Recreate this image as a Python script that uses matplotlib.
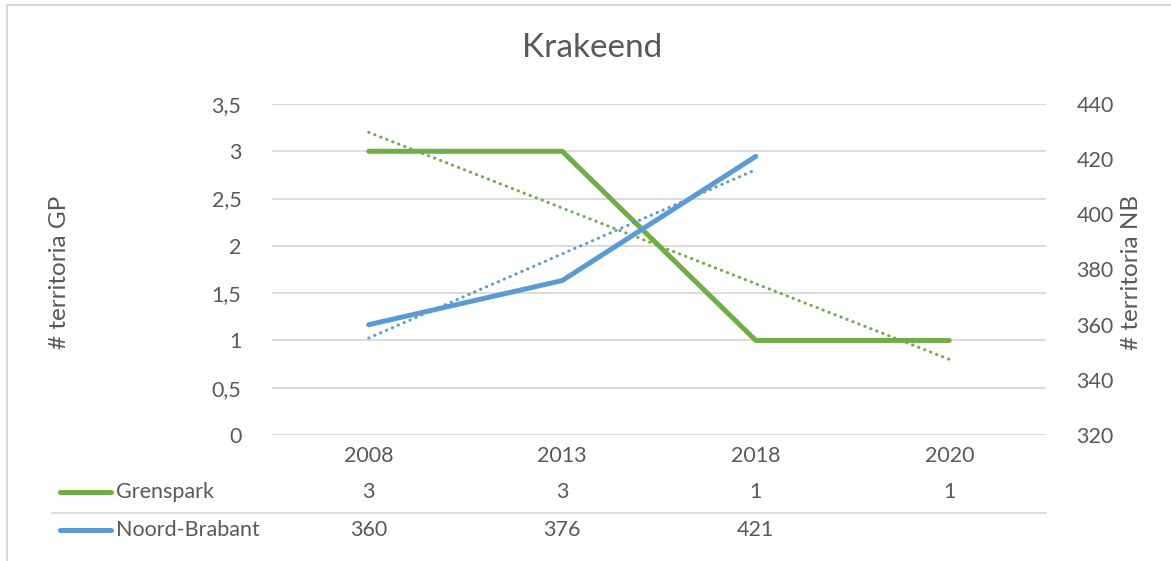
import matplotlib.pyplot as plt
import numpy as np
from matplotlib.lines import Line2D
from matplotlib.transforms import blended_transform_factory

# Data
years = ['2008', '2013', '2018', '2020']
grenspark = [3, 3, 1, 1]
noord_brabant = [360, 376, 421]

GREEN = '#70AD47'
BLUE = '#5B9BD5'
GRID = '#D9D9D9'
TEXT = '#595959'

plt.rcParams['font.family'] = ['Lato', 'DejaVu Sans']

W, H = 1171, 561
fig = plt.figure(figsize=(W / 100, H / 100), dpi=100)


def fx(px):
    return px / W


def fy(py):
    return 1 - py / H


ax = fig.add_axes([fx(272), fy(435), fx(1046) - fx(272), fy(104) - fy(435)])
ax2 = ax.twinx()

x_gp = np.arange(len(grenspark))
x_nb = np.arange(len(noord_brabant))

# Main lines
ax.plot(x_gp, grenspark, color=GREEN, lw=3.6, solid_capstyle='round',
        solid_joinstyle='round', zorder=3)
ax2.plot(x_nb, noord_brabant, color=BLUE, lw=3.6, solid_capstyle='round',
         solid_joinstyle='round', zorder=3)

# Linear trendlines
c_gp = np.polyfit(x_gp, grenspark, 1)
c_nb = np.polyfit(x_nb, noord_brabant, 1)
ax.plot(x_gp, np.polyval(c_gp, x_gp), color=GREEN, lw=2.2,
        linestyle=(0, (0.1, 2.0)), dash_capstyle='round', zorder=4)
ax2.plot(x_nb, np.polyval(c_nb, x_nb), color=BLUE, lw=2.2,
         linestyle=(0, (0.1, 2.0)), dash_capstyle='round', zorder=4)

# Left axis
ax.set_xlim(-0.5, len(years) - 0.5)
ax.set_ylim(0, 3.5)
ax.set_yticks(np.arange(0, 3.51, 0.5))
ax.set_yticklabels(['0', '0,5', '1', '1,5', '2', '2,5', '3', '3,5'])
ax.grid(axis='y', color=GRID, lw=1.3)
ax.set_axisbelow(True)
ax.set_xticks(range(len(years)))
ax.set_xticklabels(years)
ax.tick_params(axis='x', length=0, pad=8, labelsize=15.5, colors=TEXT)
ax.tick_params(axis='y', length=0, pad=22, labelsize=15.5, colors=TEXT)

# Right axis
ax2.set_ylim(320, 440)
ax2.set_yticks(np.arange(320, 441, 20))
ax2.tick_params(axis='y', length=0, pad=22, labelsize=15.5, colors=TEXT)

for a in (ax, ax2):
    for s in a.spines.values():
        s.set_visible(False)

# Titles and labels
fig.text(fx(592), fy(48), 'Krakeend', ha='center', va='center',
         fontsize=24, color=TEXT)
fig.text(fx(60), fy(272), '# territoria GP', ha='center', va='center',
         rotation=90, fontsize=17.5, color=TEXT)
fig.text(fx(1131), fy(272), '# territoria NB', ha='center', va='center',
         rotation=90, fontsize=17.5, color=TEXT)

# Data table below the plot
tr = blended_transform_factory(ax.transData, fig.transFigure)
rows = [('Grenspark', grenspark, GREEN, 492),
        ('Noord-Brabant', noord_brabant, BLUE, 530)]
for name, vals, col, ypx in rows:
    fig.add_artist(Line2D([fx(60), fx(111)], [fy(ypx), fy(ypx)], color=col,
                          lw=3.6, solid_capstyle='round'))
    fig.text(fx(116), fy(ypx), name, ha='left', va='center',
             fontsize=15.5, color=TEXT)
    for i, v in enumerate(vals):
        ax.text(i, fy(ypx), str(v), transform=tr, ha='center', va='center',
                fontsize=15.5, color=TEXT)

fig.add_artist(Line2D([fx(52), fx(1046)], [fy(513), fy(513)], color=GRID,
                      lw=1.3))

# Chart border (partly cropped)
fig.add_artist(Line2D([fx(7), fx(7)], [fy(5), 0], color=GRID, lw=1.5))
fig.add_artist(Line2D([fx(7), 1], [fy(5), fy(5)], color=GRID, lw=1.5))

fig.savefig('out.png', dpi=100)
